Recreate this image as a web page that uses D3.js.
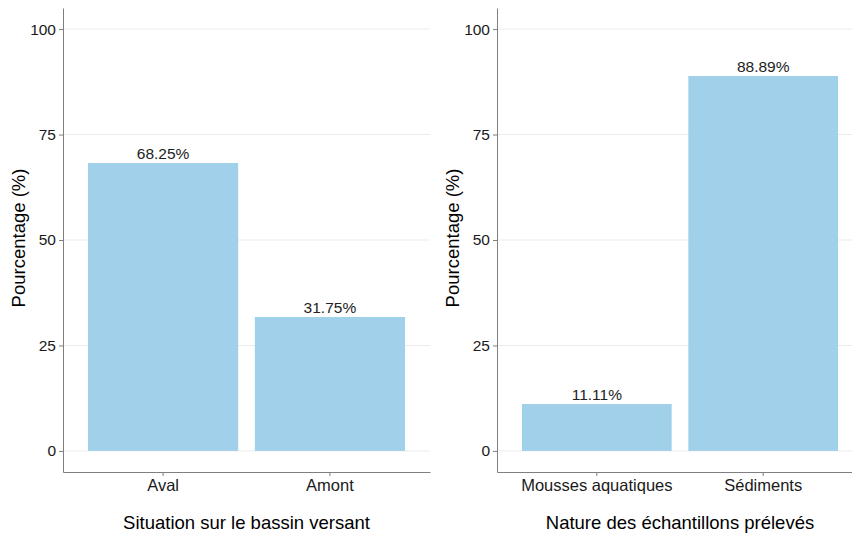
<!DOCTYPE html>
<html>
<head>
<meta charset="utf-8">
<script src="https://cdn.jsdelivr.net/npm/d3@7"></script>
<style>
	body { margin: 0; background: #fff; }
	text { font-family: "Liberation Sans", Arial, sans-serif; }
</style>
</head>
<body>
<svg id="chart" width="852" height="533"></svg>
<script>
// data
var leftCategories = ["Aval", "Amont"];
var leftValues = [68.25, 31.75];
var leftTitle = "Situation sur le bassin versant";

var rightCategories = ["Mousses aquatiques", "Sédiments"];
var rightValues = [11.11, 88.89];
var rightTitle = "Nature des échantillons prélevés";

var yTicks = [0, 25, 50, 75, 100];
var yTitle = "Pourcentage (%)";

var width = 852,
	height = 533;

var barColor = "#a0d0ea";

var svg = d3.select("#chart");

// same y scale for both panels (ggplot 5% expansion)
var y = d3.scaleLinear()
	.domain([-5, 105])
	.range([472, 8]);

function drawPanel(categories, values, xTitle, left, right) {
	var g = svg.append("g");

	var x = d3.scaleBand()
		.domain(categories)
		.range([left, right])
		.paddingInner(0.1)
		.paddingOuter(0.15);

	// grid lines
	g.selectAll(".grid")
		.data(yTicks)
		.enter()
		.append("line")
		.attr("x1", left)
		.attr("x2", right)
		.attr("y1", function (d) { return y(d); })
		.attr("y2", function (d) { return y(d); })
		.attr("stroke", "#ebebeb")
		.attr("stroke-width", 1);

	// bars
	g.selectAll(".bar")
		.data(values)
		.enter()
		.append("rect")
		.attr("x", function (d, i) { return x(categories[i]); })
		.attr("y", function (d) { return y(d); })
		.attr("width", x.bandwidth())
		.attr("height", function (d) { return y(0) - y(d); })
		.attr("fill", barColor);

	// value labels
	g.selectAll(".val")
		.data(values)
		.enter()
		.append("text")
		.attr("x", function (d, i) { return x(categories[i]) + x.bandwidth() / 2; })
		.attr("y", function (d) { return y(d) - 4; })
		.attr("text-anchor", "middle")
		.attr("font-size", "15.5px")
		.attr("fill", "#222")
		.text(function (d) { return d.toFixed(2) + "%"; });

	// y axis
	var yAxis = g.append("g")
		.attr("transform", "translate(" + left + ",0)")
		.call(d3.axisLeft(y).tickValues(yTicks).tickSize(4).tickPadding(3).tickSizeOuter(0));
	yAxis.select(".domain").attr("stroke", "#7f7f7f");
	yAxis.selectAll(".tick line").attr("stroke", "#7f7f7f");
	yAxis.selectAll(".tick text")
		.attr("font-size", "15.5px")
		.attr("fill", "#1a1a1a")
		.style("font-family", "Liberation Sans, Arial, sans-serif");

	// x axis
	var xAxis = g.append("g")
		.attr("transform", "translate(0," + y.range()[0] + ")")
		.call(d3.axisBottom(x).tickSize(4).tickPadding(3).tickSizeOuter(0));
	xAxis.select(".domain").attr("stroke", "#7f7f7f");
	xAxis.selectAll(".tick line").attr("stroke", "#7f7f7f");
	xAxis.selectAll(".tick text")
		.attr("font-size", "16.5px")
		.attr("fill", "#1a1a1a")
		.style("font-family", "Liberation Sans, Arial, sans-serif");

	// titles
	g.append("text")
		.attr("x", (left + right) / 2)
		.attr("y", 529)
		.attr("text-anchor", "middle")
		.attr("font-size", "18.5px")
		.attr("fill", "#000")
		.text(xTitle);

	g.append("text")
		.attr("transform", "translate(" + (left - 38) + "," + (y(50) - 2) + ") rotate(-90)")
		.attr("text-anchor", "middle")
		.attr("font-size", "18.5px")
		.attr("fill", "#000")
		.text(yTitle);
}

drawPanel(leftCategories, leftValues, leftTitle, 63, 430);
drawPanel(rightCategories, rightValues, rightTitle, 497, 863);
</script>
</body>
</html>
